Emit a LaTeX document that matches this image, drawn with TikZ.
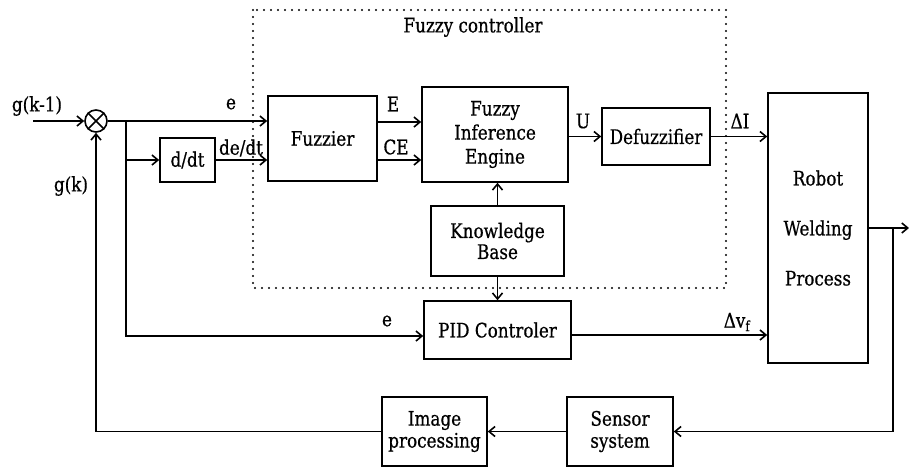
\documentclass[tikz,border=0pt]{standalone}
\usepackage{fontspec}
\setmainfont{DejaVu Serif}[FakeStretch=0.84,FakeBold=0.6]
\usetikzlibrary{arrows.meta}
\begin{document}
\begin{tikzpicture}
[x=1pt,y=-1pt,line width=1.6pt,font=\fontsize{20}{23}\selectfont,
 b/.style={draw,rectangle,align=center,inner sep=0pt},
 a/.style={-{Straight Barb[length=6pt,width=10pt]}},
 t/.style={inner sep=0pt}]
\useasboundingbox (0,0) rectangle (909,467);
% fuzzy controller frame
\draw[dash pattern=on 0pt off 7pt,line cap=round,line width=2.2pt] (253,10) rectangle (726,288);
\node(fc) at (473,27)[t]{Fuzzy controller};
% blocks
\node(s) at (96,121)[draw,circle,minimum size=22pt,inner sep=0pt]{};
\draw(s.north west)--(s.south east) (s.north east)--(s.south west);
\node(dt) at (187.5,160)[b,minimum width=55pt,minimum height=44pt]{d/dt};
\node(fz) at (322.5,138.5)[b,minimum width=109pt,minimum height=85pt]{Fuzzier};
\node(fie) at (495,134.5)[b,minimum width=146pt,minimum height=95pt]{Fuzzy\\[1pt]Inference\\[1pt]Engine};
\node(kb) at (497.5,241)[b,minimum width=133pt,minimum height=70pt]{Knowledge\\[-2pt]Base};
\node(df) at (656,136.5)[b,minimum width=108pt,minimum height=57pt]{Defuzzifier};
\node(pid) at (497.5,330)[b,minimum width=147pt,minimum height=58pt]{PID Controler};
\node(rob) at (818,228)[b,minimum width=100pt,minimum height=270pt]{Robot\\[27pt]Welding\\[27pt]Process};
\node(img) at (434.5,431.5)[b,minimum width=105pt,minimum height=69pt]{Image\\[-1pt]processing};
\node(sen) at (620,431.5)[b,minimum width=106pt,minimum height=69pt]{Sensor\\[-1pt]system};
% points on the lines
\coordinate(in) at (33,121);\coordinate(b1) at (126,121);\coordinate(b2) at (893,228);
\coordinate(out) at (909,228);\coordinate(e1) at (377,122);\coordinate(e2) at (377,160);
% signal lines
\draw[a](in)--(s);\draw[a](s)--(s -| fz.west);
\draw[a](b1)|-(dt);\draw[a](dt)--(dt -| fz.west);
\draw[a](b1)|-([yshift=-6pt]pid.west);
\draw[a](e1)--(e1 -| fie.west);\draw[a](e2)--(e2 -| fie.west);
\draw[a](kb.north)--(kb.north |- fie.south);\draw[a](kb.south)--(kb.south |- pid.north);
\draw[a](fie.east |- df)--(df);\draw[a](df)--(df -| rob.west);
\draw[a]([yshift=-5pt]pid.east)--([yshift=-5pt]pid.east -| rob.west);
\draw[a](rob.east |- out)--(out);
\draw[a](b2)|-(sen);\draw[a](sen)--(img);\draw[a](img)-|(s);
% signal labels
\node at (37,106)[t]{g(k-1)};\node at (71,186)[t]{g(k)};
\node at (231,104)[t]{e};\node at (241,148)[t]{de/dt};
\node at (393,104)[t]{E};\node at (396,147)[t]{CE};
\node at (583,121)[t]{U};\node at (740,121)[t]{ΔI};
\node at (737,322)[t]{Δv\textsubscript{f}};\node at (387,321)[t]{e};
\end{tikzpicture}
\end{document}
